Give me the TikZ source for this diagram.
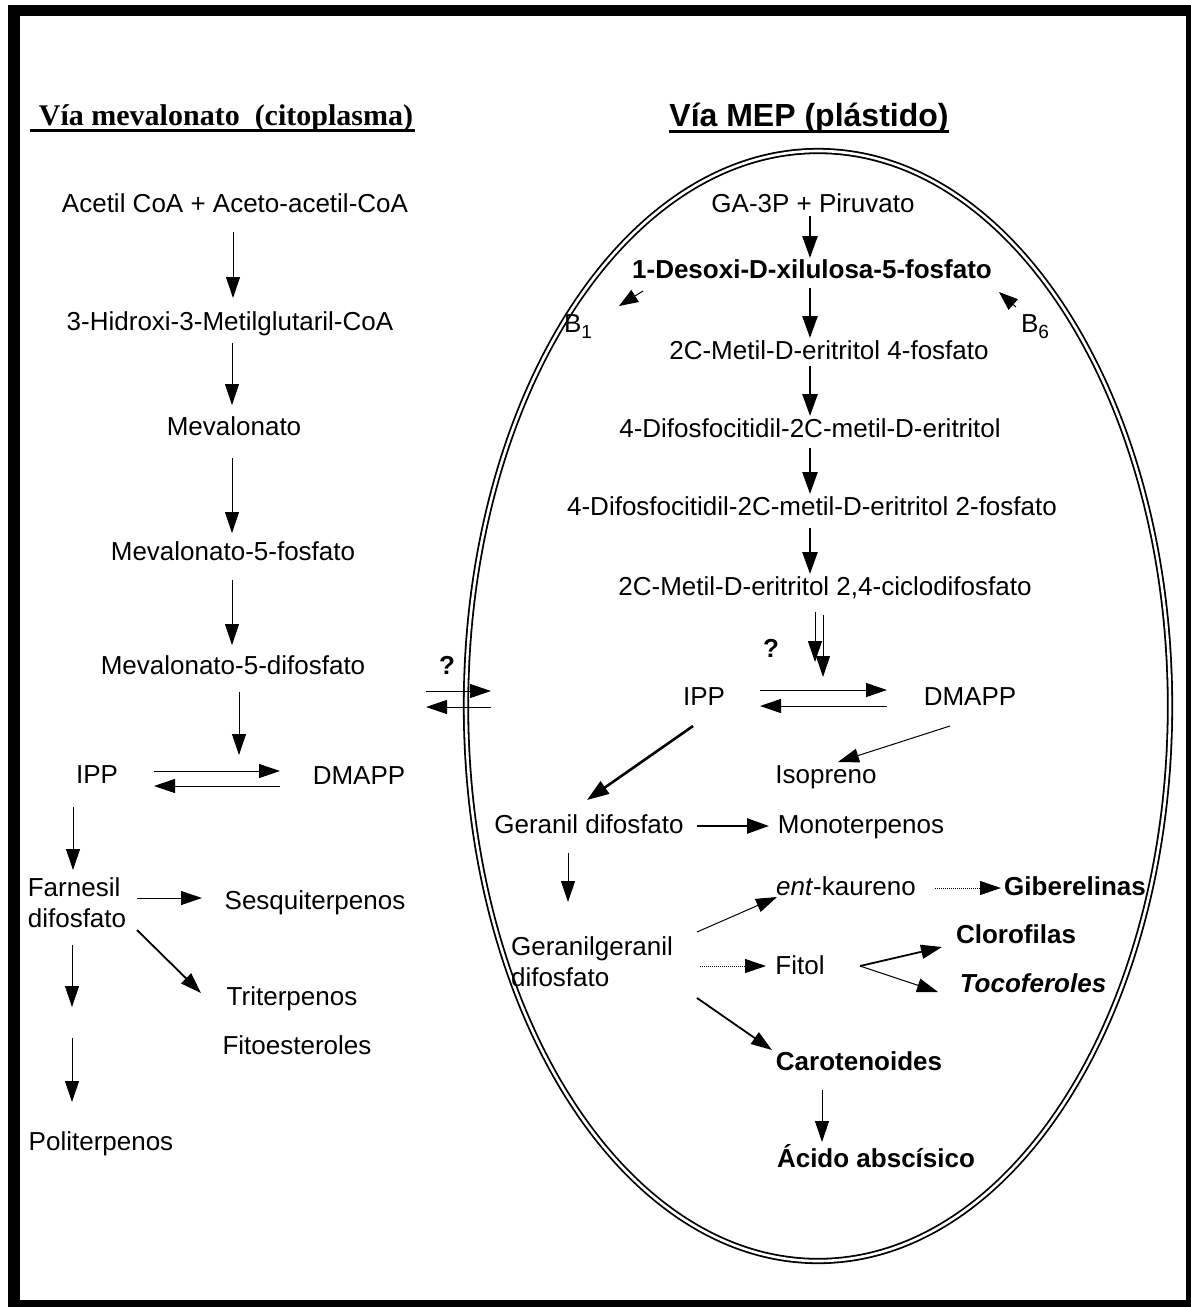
\documentclass[tikz,border=0pt]{standalone}
\usepackage{fontspec}
\setmainfont{Liberation Sans}
\newfontfamily\titserif{Liberation Serif}
\usetikzlibrary{arrows.meta,calc}
\newcommand\fsz{\fontsize{26}{31}\selectfont}
\newcommand\subnum[1]{\raisebox{-6pt}{\fontsize{19}{19}\selectfont #1}}
\begin{document}
\begin{tikzpicture}[x=1pt,y=-1pt,
  lbl/.style={inner sep=0pt, font=\fsz, text height=19pt, text depth=5pt},
  bl/.style={lbl, font=\fsz\bfseries},
  mlbl/.style={inner sep=0pt, font=\fsz, align=left},
  arr/.style={-{Triangle[length=21pt,width=14pt]}, line width=1pt},
  tarr/.style={-{Triangle[length=22pt,width=15pt]}, line width=2.6pt},
  marr/.style={-{Triangle[length=21pt,width=14pt]}, line width=1.8pt},
  darr/.style={arr, densely dotted},
  sarr/.style={-{Triangle[length=19pt,width=14pt]}, line width=1pt},
]
\useasboundingbox (0,0) rectangle (1191,1307);
\fill[white] (0,0) rectangle (1191,1307);
% frame
\fill (8,5) rectangle (20,1307);
\fill (8,5) rectangle (1191,16);
\fill (1186,5) rectangle (1191,1307);
\fill (8,1300) rectangle (1191,1307);
% plastid
\draw[line width=1.8pt, double=white, double distance=2.6pt] (818,706) ellipse [x radius=352, y radius=555];

% titles
\node[inner sep=0pt, font=\titserif\fontsize{30}{36}\selectfont\bfseries] (titL) at (226,118) {Vía mevalonato\ \ (citoplasma)};
\draw[line width=2.6pt] ($(titL.base west)+(-9,5)$) -- ($(titL.base east)+(2,5)$);
\node[inner sep=0pt, font=\fontsize{32}{38}\selectfont\bfseries] (titR) at (809,118) {Vía MEP (plástido)};
\draw[line width=2.6pt] ($(titR.base west)+(0,5)$) -- ($(titR.base east)+(0,5)$);

% left column
\node[lbl] (acetil) at (235,205) {Acetil CoA + Aceto-acetil-CoA};
\node[lbl] (hmg) at (230,323) {3-Hidroxi-3-Metilglutaril-CoA};
\node[lbl] (mev) at (234,428) {Mevalonato};
\node[lbl] (mevp) at (233,553) {Mevalonato-5-fosfato};
\node[lbl] (mevpp) at (233,667) {Mevalonato-5-difosfato};
\node[lbl] (ippL) at (97,776) {IPP};
\node[lbl] (dmappL) at (359,777) {DMAPP};
\node[mlbl] (farn) at (77,903) {Farnesil\\difosfato};
\node[lbl] (sesq) at (315,902) {Sesquiterpenos};
\node[lbl] (trit) at (292,998) {Triterpenos};
\node[lbl] (fito) at (297,1047) {Fitoesteroles};
\node[lbl] (politer) at (101,1143) {Politerpenos};
\coordinate (isoL) at (239,770);
\coordinate (polgap) at (72,1022);

\draw[arr] ($(acetil)+(-2,27)$) -- ($(hmg)+(3,-25)$);
\draw[arr] ($(hmg)+(2,20)$) -- ($(mev)+(-2,-23)$);
\draw[arr] ($(mev)+(-2,30)$) -- ($(mevp)+(-1,-20)$);
\draw[arr] ($(mevp)+(-1,27)$) -- ($(mevpp)+(-1,-22)$);
\draw[arr] ($(mevpp)+(6,25)$) -- ($(isoL)+(0,-15)$);
\draw[arr] ($(ippL)+(57,-5)$) -- ($(dmappL)+(-79,-6)$);
\draw[arr] ($(dmappL)+(-79,9)$) -- ($(ippL)+(57,10)$);
\draw[arr] ($(ippL)+(-24,31)$) -- ($(farn)+(-4,-33)$);
\draw[arr] ($(farn)+(60,-5)$) -- ($(sesq)+(-113,-4)$);
\draw[marr] ($(farn)+(60,27)$) -- ($(trit)+(-91,-5)$);
\draw[arr] ($(farn)+(-5,42)$) -- ($(polgap)+(0,-15)$);
\draw[arr] ($(polgap)+(0,16)$) -- ($(politer)+(-29,-41)$);

% membrane exchange
\node[inner sep=0pt, font=\fsz\bfseries] (q1) at (447,665) {?};
\coordinate (memL) at (426,699);
\coordinate (memR) at (491,699);
\draw[arr] ($(memL)+(0,-8)$) -- ($(memR)+(0,-8)$);
\draw[arr] ($(memR)+(0,8)$) -- ($(memL)+(0,8)$);

% MEP pathway
\node[lbl] (ga3p) at (813,205) {GA-3P + Piruvato};
\node[bl] (dxp) at (812,271) {1-Desoxi-D-xilulosa-5-fosfato};
\node[lbl] (b1) at (578,325) {B\subnum{1}};
\node[lbl] (b6) at (1035,325) {B\subnum{6}};
\node[lbl] (mep) at (829,352) {2C-Metil-D-eritritol 4-fosfato};
\node[lbl] (cdp) at (810,430) {4-Difosfocitidil-2C-metil-D-eritritol};
\node[lbl] (cdpp) at (812,508) {4-Difosfocitidil-2C-metil-D-eritritol 2-fosfato};
\node[lbl] (mecpp) at (825,588) {2C-Metil-D-eritritol 2,4-ciclodifosfato};
\node[inner sep=0pt, font=\fsz\bfseries] (q2) at (771,648) {?};
\node[lbl] (ipp) at (704,698) {IPP};
\node[lbl] (dmapp) at (970,698) {DMAPP};
\node[lbl] (isop) at (826,776) {Isopreno};
\node[lbl] (gpp) at (589,826) {Geranil difosfato};
\node[lbl] (mono) at (861,826) {Monoterpenos};
\node[lbl] (ent) at (846,888) {\textit{ent}-kaureno};
\node[bl] (gib) at (1075,888) {Giberelinas};
\node[mlbl] (ggpp) at (592,962) {Geranilgeranil\\difosfato};
\node[lbl] (fitol) at (800,967) {Fitol};
\node[bl] (cloro) at (1016,936) {Clorofilas};
\node[lbl, font=\fsz\bfseries\itshape] (toco) at (1033,985) {Tocoferoles};
\node[bl] (carot) at (859,1063) {Carotenoides};
\node[bl] (aba) at (876,1160) {Ácido abscísico};
\coordinate (isoR) at (819,670);

\draw[tarr] ($(ga3p)+(-3,11)$) -- ($(dxp)+(-2,-13)$);
\draw[tarr] ($(dxp)+(-2,17)$) -- ($(mep)+(-19,-14)$);
\draw[tarr] ($(mep)+(-19,14)$) -- ($(cdp)+(0,-14)$);
\draw[tarr] ($(cdp)+(0,18)$) -- ($(cdpp)+(-2,-14)$);
\draw[tarr] ($(cdpp)+(-2,20)$) -- ($(mecpp)+(-15,-14)$);
\draw[sarr] ($(dxp)+(-169,20)$) -- ($(b1)+(41,-19)$);
\draw[sarr] ($(b6)+(-19,-18)$) -- ($(dxp)+(187,21)$);
\draw[arr] ($(mecpp)+(-10,24)$) -- ($(isoR)+(-4,-8)$);
\draw[arr] ($(mecpp)+(-2,27)$) -- ($(isoR)+(4,7)$);
\draw[arr] ($(ipp)+(56,-8)$) -- ($(dmapp)+(-83,-8)$);
\draw[arr] ($(dmapp)+(-83,8)$) -- ($(ipp)+(56,8)$);
\draw[tarr] ($(ipp)+(-11,28)$) -- ($(gpp)+(-2,-26)$);
\draw[arr] ($(dmapp)+(-20,28)$) -- ($(isop)+(12,-14)$);
\draw[tarr] ($(gpp)+(108,0)$) -- ($(mono)+(-92,0)$);
\draw[arr] ($(gpp)+(-21,27)$) -- ($(ggpp)+(-24,-60)$);
\draw[arr] ($(ggpp)+(105,-30)$) -- ($(ent)+(-69,9)$);
\draw[darr] ($(ggpp)+(108,4)$) -- ($(fitol)+(-34,-1)$);
\draw[marr] ($(fitol)+(60,-1)$) -- ($(cloro)+(-74,11)$);
\draw[arr] ($(fitol)+(60,-1)$) -- ($(toco)+(-95,7)$);
\draw[darr] ($(ent)+(89,0)$) -- ($(gib)+(-74,0)$);
\draw[marr] ($(ggpp)+(105,36)$) -- ($(carot)+(-87,-13)$);
\draw[arr] ($(carot)+(-37,27)$) -- ($(aba)+(-54,-18)$);
\end{tikzpicture}
\end{document}
